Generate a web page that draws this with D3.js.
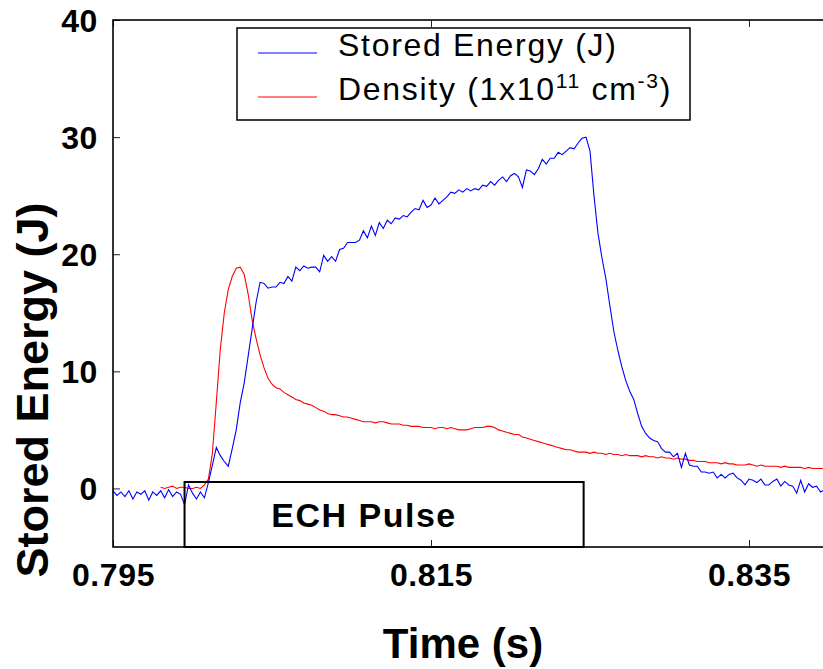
<!DOCTYPE html>
<html>
<head>
<meta charset="utf-8">
<script src="https://cdn.jsdelivr.net/npm/d3@7"></script>
<style>
  body { margin: 0; background: #fff; }
  svg { display: block; font-family: "Liberation Sans", Arial, sans-serif; }
</style>
</head>
<body>
<div id="chart"></div>
<script>
// sample clock of the digitiser (s)
var sampleStart = 0.795;
var sampleStep = 0.00025;

// stored energy (J), one value per sample
var storedEnergy = [
  -0.2, -0.6, -0.3, -0.7, -0.2, -0.9, -0.3, -0.5, -0.2, -1.0,
  -0.3, -0.6, -0.2, -0.8, -0.1, -0.7, -0.3, -0.5, -1.4, 0.3,
  -0.4, -0.9, -0.3, -0.8, 0.5, 2.0, 3.5, 2.8, 2.3, 1.9,
  3.4, 5.0, 7.3, 9.0, 11.3, 13.6, 15.9, 17.6, 17.5, 17.1,
  17.2, 17.2, 17.6, 17.5, 18.1, 17.7, 18.9, 18.6, 19.0, 18.8,
  18.9, 18.9, 18.5, 19.9, 19.4, 19.8, 19.4, 20.4, 20.5, 21.0,
  21.0, 21.0, 21.2, 22.0, 21.4, 22.4, 21.6, 22.7, 22.2, 22.9,
  22.6, 23.1, 23.0, 23.3, 23.2, 23.6, 23.9, 23.8, 24.6, 24.0,
  24.2, 24.8, 24.3, 24.6, 24.9, 25.3, 25.2, 25.5, 25.3, 25.6,
  25.4, 25.6, 25.5, 25.9, 25.8, 26.2, 25.9, 26.3, 26.6, 26.2,
  26.7, 26.9, 26.6, 25.7, 27.2, 27.1, 26.8, 27.3, 28.1, 27.7,
  28.2, 28.2, 28.7, 28.5, 28.8, 29.1, 29.0, 29.5, 29.9, 30.0,
  28.8, 25.0, 21.8, 19.7, 17.9, 15.6, 13.4, 11.8, 10.4, 9.2,
  8.3, 7.6, 6.4, 5.3, 4.7, 4.3, 4.1, 4.0, 3.4, 3.1,
  3.1, 2.7, 3.0, 1.8, 3.0, 2.0, 1.9, 1.9, 1.4, 1.4,
  1.3, 1.4, 0.9, 1.2, 0.9, 1.2, 1.3, 0.9, 0.7, 0.3,
  0.8, 0.7, 0.5, 0.8, 0.3, 0.3, 0.6, 0.8, 0.2, 0.6,
  0.3, 0.2, -0.4, 0.7, -0.3, 0.4, 0.1, 0.2, -0.3, -0.1,
  -0.2
];

// density (1e11 cm^-3), null where not recorded
var density = [
  null, null, null, null, null, null, null, null, null, null,
  null, null, 0.1, 0.0, 0.1, 0.2, 0.0, 0.1, 0.1, 0.0,
  0.0, 0.1, 0.0, 0.3, 0.8, 3.0, 7.4, 11.9, 15.0, 17.0,
  18.1, 18.8, 18.9, 18.3, 16.6, 14.4, 12.8, 11.4, 10.3, 9.4,
  8.9, 8.6, 8.5, 8.2, 8.0, 7.8, 7.6, 7.5, 7.3, 7.2,
  7.1, 6.9, 6.7, 6.6, 6.4, 6.3, 6.3, 6.2, 6.1, 6.1,
  6.0, 5.9, 5.8, 5.7, 5.7, 5.7, 5.6, 5.7, 5.7, 5.6,
  5.5, 5.5, 5.5, 5.4, 5.4, 5.3, 5.3, 5.3, 5.2, 5.2,
  5.2, 5.1, 5.2, 5.2, 5.1, 5.2, 5.1, 5.0, 5.0, 5.0,
  5.1, 5.2, 5.2, 5.2, 5.3, 5.3, 5.2, 5.0, 4.9, 4.8,
  4.7, 4.6, 4.6, 4.4, 4.3, 4.2, 4.1, 4.0, 3.9, 3.8,
  3.7, 3.6, 3.5, 3.4, 3.3, 3.3, 3.2, 3.1, 3.1, 3.1,
  3.0, 3.1, 3.0, 3.0, 2.9, 3.0, 2.9, 2.9, 2.8, 2.9,
  2.8, 2.8, 2.8, 2.7, 2.8, 2.7, 2.7, 2.6, 2.7, 2.6,
  2.6, 2.5, 2.6, 2.5, 2.5, 2.4, 2.4, 2.3, 2.3, 2.3,
  2.2, 2.2, 2.2, 2.1, 2.2, 2.1, 2.1, 2.0, 2.0, 2.0,
  2.1, 2.0, 1.9, 2.0, 1.9, 1.9, 1.9, 1.9, 1.8, 1.9,
  1.8, 1.8, 1.8, 1.8, 1.7, 1.8, 1.7, 1.7, 1.7, 1.7,
  1.7
];

var xTicks = [0.795, 0.815, 0.835];
var yTicks = [0, 10, 20, 30, 40];
var echPulse = [0.7995, 0.8246];   // start / end of heating pulse (s)

var w = 823;
var h = 669;

var x = d3.scaleLinear()
          .domain([0.795, 0.84])
          .range([113, 828.5]);

var y = d3.scaleLinear()
          .domain([-5, 40])
          .range([547, 20]);

var svg = d3.select("#chart")
            .append("svg")
            .attr("width", w)
            .attr("height", h);

var time = storedEnergy.map(function(d, i) { return sampleStart + i * sampleStep; });

svg.append("clipPath")
    .attr("id", "plotclip")
  .append("rect")
    .attr("x", 113).attr("y", 20)
    .attr("width", 828.5 - 113).attr("height", 527);

var line = d3.line()
             .defined(function(d) { return d[1] != null; })
             .x(function(d) { return x(d[0]); })
             .y(function(d) { return y(d[1]); });

svg.append("path")
    .datum(time.map(function(t, i) { return [t, density[i]]; }))
    .attr("clip-path", "url(#plotclip)")
    .attr("fill", "none")
    .attr("stroke", "#ff0000")
    .attr("stroke-width", 1.1)
    .attr("d", line);

svg.append("path")
    .datum(time.map(function(t, i) { return [t, storedEnergy[i]]; }))
    .attr("clip-path", "url(#plotclip)")
    .attr("fill", "none")
    .attr("stroke", "#0000ff")
    .attr("stroke-width", 1.1)
    .attr("d", line);

// axes: inward ticks, bottom/left labelled, top plain
var xAxis = d3.axisBottom(x).tickValues(xTicks).tickSize(-7).tickPadding(16)
              .tickFormat(d3.format(".3f"));
var yAxis = d3.axisLeft(y).tickValues(yTicks).tickSize(-7).tickPadding(15);

var gx = svg.append("g").attr("transform", "translate(0," + y(-5) + ")").call(xAxis);
var gy = svg.append("g").attr("transform", "translate(" + x(0.795) + ",0)").call(yAxis);
svg.append("g").attr("transform", "translate(0," + y(40) + ")")
   .call(d3.axisTop(x).tickValues(xTicks).tickSize(-7).tickFormat(""));

[gx, gy].forEach(function(g) {
  g.selectAll("text")
    .attr("font-size", 32)
    .attr("font-weight", "bold")
    .attr("fill", "#000")
    .attr("letter-spacing", 0.6)
    .attr("font-family", "Liberation Sans, Arial, sans-serif");
});
gx.selectAll("text").attr("dy", "0.71em");
gy.selectAll("text").attr("dy", "0.36em");
svg.selectAll(".domain").remove();
svg.selectAll(".tick line").attr("stroke", "#222").attr("stroke-width", 1);

// plot frame
svg.append("rect")
    .attr("x", x(0.795))
    .attr("y", y(40))
    .attr("width", x(0.84) - x(0.795))
    .attr("height", y(-5) - y(40))
    .attr("fill", "none")
    .attr("stroke", "#000")
    .attr("stroke-width", 1.6);

// ECH pulse box
svg.append("rect")
    .attr("x", x(echPulse[0]))
    .attr("y", y(0.55))
    .attr("width", x(echPulse[1]) - x(echPulse[0]))
    .attr("height", y(-5) - y(0.55))
    .attr("fill", "none")
    .attr("stroke", "#000")
    .attr("stroke-width", 2);

svg.append("text")
    .attr("x", 364)
    .attr("y", 527)
    .attr("text-anchor", "middle")
    .attr("font-size", 34)
    .attr("font-weight", "bold")
    .attr("letter-spacing", 1.5)
    .text("ECH Pulse");

// legend
var legend = svg.append("g");
legend.append("rect")
    .attr("x", 237).attr("y", 28)
    .attr("width", 453).attr("height", 92)
    .attr("fill", "#fff")
    .attr("stroke", "#000")
    .attr("stroke-width", 1.5);

legend.append("line")
    .attr("x1", 258).attr("x2", 317).attr("y1", 53).attr("y2", 53)
    .attr("stroke", "#0000ff").attr("stroke-width", 1.2);
legend.append("line")
    .attr("x1", 258).attr("x2", 317).attr("y1", 97).attr("y2", 97)
    .attr("stroke", "#ff0000").attr("stroke-width", 1.2);

legend.append("text")
    .attr("x", 338).attr("y", 56)
    .attr("font-size", 32)
    .attr("letter-spacing", 1.7)
    .text("Stored Energy (J)");

var dens = legend.append("text")
    .attr("x", 338).attr("y", 100)
    .attr("font-size", 32)
    .attr("letter-spacing", 1.7);
dens.append("tspan").text("Density (1x10");
dens.append("tspan").attr("font-size", 21).attr("dy", -12).text("11");
dens.append("tspan").attr("dy", 12).text(" cm");
dens.append("tspan").attr("font-size", 21).attr("dy", -12).text("-3");
dens.append("tspan").attr("dy", 12).text(")");

// axis titles
svg.append("text")
    .attr("transform", "translate(48,390) rotate(-90)")
    .attr("text-anchor", "middle")
    .attr("font-size", 45)
    .attr("font-weight", "bold")
    .text("Stored Energy (J)");

svg.append("text")
    .attr("x", 463)
    .attr("y", 658)
    .attr("text-anchor", "middle")
    .attr("font-size", 42)
    .attr("font-weight", "bold")
    .text("Time (s)");
</script>
</body>
</html>
